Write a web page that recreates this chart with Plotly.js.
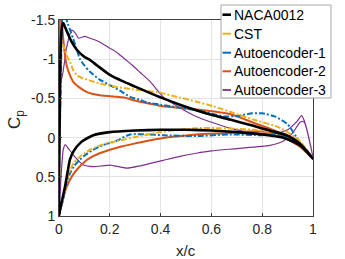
<!DOCTYPE html>
<html>
<head>
<meta charset="utf-8">
<script src="https://cdn.plot.ly/plotly-3.0.1.min.js"></script>
<style>html,body{margin:0;padding:0;background:#fff;}#chart{width:345px;height:259px;}</style>
</head>
<body>
<div id="chart"></div>
<script>
// Series names
const seriesNames = ['NACA0012', 'CST', 'Autoencoder-1', 'Autoencoder-2', 'Autoencoder-3'];

// NACA0012
const nacaUpperX  = [0, 0.003, 0.007, 0.012, 0.017, 0.025, 0.037, 0.05, 0.07, 0.1, 0.122, 0.15, 0.2, 0.25, 0.3, 0.35, 0.41, 0.476, 0.54, 0.6, 0.673, 0.765, 0.83, 0.896, 0.95, 1.0];
const nacaUpperCp = [1.0, -0.3, -1.2, -1.42, -1.46, -1.40, -1.31, -1.22, -1.12, -1.03, -0.99, -0.92, -0.80, -0.72, -0.65, -0.58, -0.50, -0.42, -0.35, -0.29, -0.23, -0.15, -0.09, -0.03, 0.08, 0.27];
const nacaLowerX  = [0, 0.005, 0.012, 0.024, 0.035, 0.043, 0.06, 0.083, 0.1, 0.135, 0.2, 0.3, 0.4, 0.5, 0.6, 0.7, 0.8, 0.88, 0.95, 1.0];
const nacaLowerCp = [1.0, 0.9, 0.8, 0.62, 0.42, 0.28, 0.16, 0.07, 0.03, -0.03, -0.07, -0.09, -0.10, -0.10, -0.09, -0.07, -0.04, 0.0, 0.1, 0.27];

// CST
const cstUpperX  = [0, 0.004, 0.01, 0.02, 0.03, 0.043, 0.056, 0.07, 0.085, 0.12, 0.16, 0.22, 0.28, 0.385, 0.476, 0.54, 0.607, 0.673, 0.765, 0.87, 0.95, 1.0];
const cstUpperCp = [1.0, -0.3, -1.2, -1.15, -1.05, -0.97, -0.86, -0.80, -0.77, -0.73, -0.69, -0.65, -0.62, -0.58, -0.51, -0.46, -0.40, -0.33, -0.23, -0.125, 0.05, 0.27];
const cstLowerX  = [0, 0.005, 0.012, 0.02, 0.035, 0.056, 0.08, 0.122, 0.17, 0.227, 0.32, 0.4, 0.476, 0.54, 0.634, 0.7, 0.765, 0.87, 0.95, 1.0];
const cstLowerCp = [1.0, 0.9, 0.82, 0.72, 0.5, 0.33, 0.25, 0.155, 0.09, 0.045, -0.02, -0.07, -0.10, -0.12, -0.12, -0.11, -0.10, -0.06, 0.08, 0.27];

// Autoencoder-1
const ae1UpperX  = [0, 0.003, 0.01, 0.015, 0.025, 0.035, 0.045, 0.056, 0.07, 0.083, 0.1, 0.122, 0.16, 0.2, 0.24, 0.28, 0.32, 0.345, 0.4, 0.476, 0.54, 0.607, 0.65, 0.71, 0.76, 0.8, 0.85, 0.9, 0.95, 1.0];
const ae1UpperCp = [1.0, 0.0, -1.2, -1.65, -1.55, -1.45, -1.36, -1.26, -1.12, -1.0, -0.92, -0.84, -0.74, -0.67, -0.60, -0.52, -0.48, -0.45, -0.42, -0.38, -0.35, -0.30, -0.27, -0.28, -0.31, -0.31, -0.27, -0.17, 0.07, 0.27];
const ae1LowerX  = [0, 0.005, 0.012, 0.025, 0.043, 0.06, 0.083, 0.1, 0.135, 0.17, 0.227, 0.28, 0.35, 0.41, 0.54, 0.673, 0.8, 0.88, 0.95, 1.0];
const ae1LowerCp = [1.0, 0.92, 0.85, 0.66, 0.46, 0.36, 0.28, 0.23, 0.155, 0.10, 0.04, -0.04, -0.04, -0.03, -0.02, -0.04, -0.03, -0.03, 0.1, 0.27];

// Autoencoder-2
const ae2UpperX  = [0, 0.002, 0.004, 0.008, 0.012, 0.02, 0.03, 0.045, 0.056, 0.08, 0.11, 0.16, 0.227, 0.26, 0.29, 0.33, 0.41, 0.476, 0.54, 0.673, 0.765, 0.87, 0.95, 1.0];
const ae2UpperCp = [1.0, -0.5, -1.6, -1.7, -1.45, -1.15, -0.92, -0.78, -0.71, -0.64, -0.58, -0.54, -0.52, -0.51, -0.48, -0.45, -0.40, -0.38, -0.36, -0.30, -0.19, -0.06, 0.12, 0.27];
const ae2LowerX  = [0, 0.003, 0.01, 0.03, 0.05, 0.07, 0.1, 0.122, 0.16, 0.2, 0.25, 0.306, 0.35, 0.41, 0.476, 0.54, 0.673, 0.765, 0.85, 0.95, 1.0];
const ae2LowerCp = [1.0, 0.95, 0.85, 0.63, 0.5, 0.41, 0.31, 0.26, 0.2, 0.155, 0.11, 0.07, 0.04, 0.004, -0.02, -0.04, -0.06, -0.08, -0.06, 0.12, 0.27];

// Autoencoder-3
const ae3UpperX  = [0, 0.004, 0.01, 0.03, 0.05, 0.065, 0.076, 0.09, 0.1, 0.12, 0.16, 0.2, 0.227, 0.26, 0.29, 0.32, 0.36, 0.41, 0.476, 0.54, 0.607, 0.673, 0.765, 0.85, 0.9, 0.935, 0.955, 0.965, 0.98, 1.0];
const ae3UpperCp = [1.0, -0.75, -0.75, -1.15, -1.37, -1.33, -1.27, -1.28, -1.29, -1.27, -1.22, -1.14, -1.09, -1.0, -0.92, -0.83, -0.71, -0.52, -0.38, -0.27, -0.19, -0.12, -0.06, -0.05, -0.1, -0.2, -0.28, -0.22, -0.05, 0.25];
const ae3LowerX  = [0, 0.008, 0.017, 0.025, 0.035, 0.056, 0.075, 0.096, 0.135, 0.17, 0.2, 0.267, 0.32, 0.41, 0.476, 0.54, 0.6, 0.7, 0.83, 0.88, 0.92, 0.95, 0.965, 1.0];
const ae3LowerCp = [1.0, 0.5, 0.15, 0.09, 0.13, 0.22, 0.29, 0.35, 0.37, 0.36, 0.35, 0.39, 0.36, 0.29, 0.24, 0.2, 0.17, 0.14, 0.10, 0.05, -0.06, -0.2, -0.2, 0.25];

// Axis ticks and titles
const xTicks = [0, 0.2, 0.4, 0.6, 0.8, 1];
const xTickText = ['0', '0.2', '0.4', '0.6', '0.8', '1'];
const yTicks = [-1.5, -1, -0.5, 0, 0.5, 1];
const yTickText = ['-1.5', '-1', '-0.5', '0', '0.5', '1'];
const xTitle = 'x/c';
const yTitle = 'C<sub>p</sub>';

const colors = ['#000000', '#EDB120', '#0072BD', '#D95319', '#7E2F8E'];
const widths = [2.6, 2, 2, 2, 1.2];
const dashes = ['solid', '6px,2px,2px,2px', '6px,2px,2px,2px', 'solid', 'solid'];
const FONT = 'Liberation Sans, Arial, sans-serif';

function loop(ux, ucp, lx, lcp) {
  const x = ux.slice().reverse().concat(lx.slice(1));
  const y = ucp.slice().reverse().concat(lcp.slice(1));
  return {x: x, y: y};
}
const series = [
  loop(nacaUpperX, nacaUpperCp, nacaLowerX, nacaLowerCp),
  loop(cstUpperX, cstUpperCp, cstLowerX, cstLowerCp),
  loop(ae1UpperX, ae1UpperCp, ae1LowerX, ae1LowerCp),
  loop(ae2UpperX, ae2UpperCp, ae2LowerX, ae2LowerCp),
  loop(ae3UpperX, ae3UpperCp, ae3LowerX, ae3LowerCp)
];

const order = [4, 3, 2, 1, 0];
const traces = order.map(i => ({
  type: 'scatter', mode: 'lines', name: seriesNames[i],
  x: series[i].x, y: series[i].y,
  line: {color: colors[i], width: widths[i], dash: dashes[i], shape: 'spline', smoothing: 0.6},
  showlegend: false, hoverinfo: 'skip'
}));

// Pixel helpers for legend / titles placement
const W = 345, H = 259;
const M = {l: 59, r: 32, t: 20, b: 43};
const pw = W - M.l - M.r, ph = H - M.t - M.b;
const px2x = p => (p - M.l) / pw;
const px2y = p => (H - M.b - p) / ph;
const legBox = {x0: 221, x1: 331, y0: 5, y1: 98};
const legRowY = [14.7, 33.7, 52.7, 71.3, 90];
const shapes = [{
  type: 'rect', xref: 'paper', yref: 'paper', layer: 'above',
  x0: px2x(legBox.x0), x1: px2x(legBox.x1), y0: px2y(legBox.y1), y1: px2y(legBox.y0),
  line: {color: '#a6a6a6', width: 1}, fillcolor: '#ffffff'
}];
const annotations = [];
seriesNames.forEach((n, i) => {
  shapes.push({
    type: 'line', xref: 'paper', yref: 'paper', layer: 'above',
    x0: px2x(222.5), x1: px2x(231), y0: px2y(legRowY[i]), y1: px2y(legRowY[i]),
    line: {color: colors[i], width: Math.max(widths[i], 1.8)}
  });
  annotations.push({
    xref: 'paper', yref: 'paper', x: px2x(232), y: px2y(legRowY[i]),
    xanchor: 'left', yanchor: 'middle', showarrow: false, text: n,
    font: {size: 14, color: '#000000', family: FONT}
  });
});
// Axis titles
annotations.push({
  xref: 'paper', yref: 'paper', x: px2x(186), y: px2y(250),
  xanchor: 'center', yanchor: 'middle', showarrow: false, text: xTitle,
  font: {size: 15, color: '#262626', family: FONT}
});
annotations.push({
  xref: 'paper', yref: 'paper', x: px2x(16), y: px2y(120),
  xanchor: 'center', yanchor: 'middle', showarrow: false, text: yTitle, textangle: -90,
  font: {size: 17, color: '#262626', family: FONT}
});

const axisCommon = {
  showline: true, mirror: true, linecolor: '#404040', linewidth: 1,
  showgrid: true, gridcolor: '#e3e3e3', gridwidth: 1,
  zeroline: false, ticks: 'inside', ticklen: 3, tickcolor: '#404040',
  tickfont: {size: 14, color: '#262626', family: FONT}
};

const layout = {
  width: W, height: H,
  margin: M,
  paper_bgcolor: '#ffffff', plot_bgcolor: '#ffffff',
  showlegend: false,
  xaxis: Object.assign({}, axisCommon, {range: [0, 1], tickvals: xTicks, ticktext: xTickText}),
  yaxis: Object.assign({}, axisCommon, {range: [1, -1.5], tickvals: yTicks, ticktext: yTickText}),
  shapes: shapes,
  annotations: annotations
};

Plotly.newPlot('chart', traces, layout, {displayModeBar: false, staticPlot: true});
</script>
</body>
</html>
